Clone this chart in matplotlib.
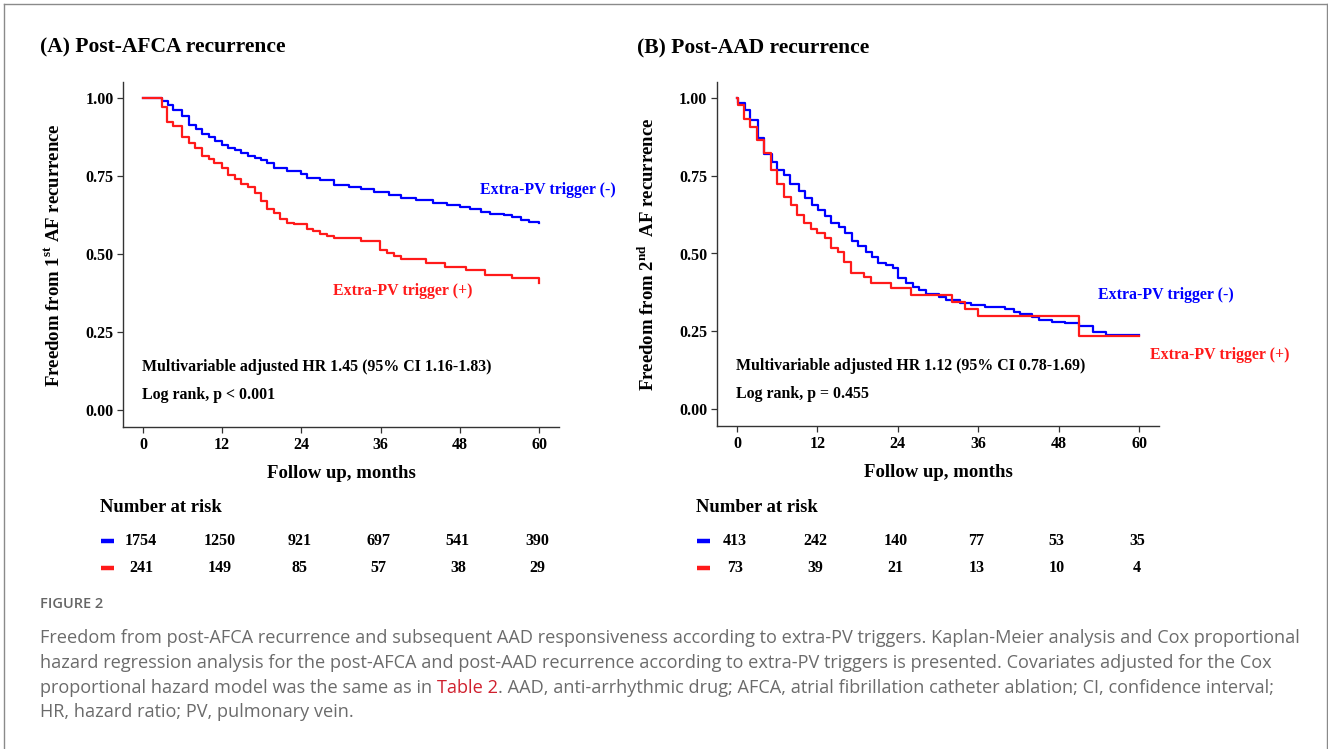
import numpy as np
import matplotlib
matplotlib.use("Agg")
import matplotlib.pyplot as plt
from matplotlib.transforms import blended_transform_factory
from matplotlib.lines import Line2D

plt.rcParams['font.family'] = ['Liberation Serif', 'DejaVu Serif']
plt.rcParams['font.weight'] = 'bold'
plt.rcParams['mathtext.fontset'] = 'custom'
plt.rcParams['mathtext.rm'] = 'Liberation Serif:bold'
plt.rcParams['mathtext.bf'] = 'Liberation Serif:bold'

# ---- panel A: post-AFCA recurrence (months, survival)
a_neg_t = [0, 2.9, 3.8, 4.6, 5.85, 6.9, 8.0, 8.9, 10.0, 10.9, 11.9, 12.9, 13.9, 14.8, 15.9,
           16.9, 17.9, 18.8, 19.8, 21.8, 23.9, 24.8, 26.8, 29.0, 31.2, 33.0, 35.0, 37.2,
           39.1, 41.3, 43.9, 46.1, 48.0, 49.6, 51.2, 52.5, 54.7, 55.9, 57.3, 58.5, 60.0]
a_neg_s = [1.0, 0.989, 0.979, 0.96, 0.941, 0.914, 0.90, 0.885, 0.875, 0.863, 0.85, 0.84, 0.832,
           0.823, 0.815, 0.807, 0.80, 0.791, 0.777, 0.766, 0.756, 0.745, 0.736, 0.722, 0.714,
           0.708, 0.698, 0.69, 0.681, 0.672, 0.665, 0.658, 0.651, 0.643, 0.635, 0.627, 0.624,
           0.617, 0.609, 0.603, 0.598]
a_pos_t = [0, 2.9, 3.7, 4.6, 5.9, 6.9, 7.95, 8.9, 10.0, 10.8, 11.9, 12.9, 13.9, 14.8, 15.9,
           16.9, 17.9, 18.8, 19.8, 20.8, 21.8, 22.9, 24.8, 25.8, 26.8, 27.9, 29.0, 33.0, 35.9,
           36.9, 38.0, 39.1, 42.9, 45.8, 49.0, 51.8, 55.9, 60.0]
a_pos_s = [1.0, 0.97, 0.922, 0.909, 0.875, 0.855, 0.84, 0.815, 0.804, 0.793, 0.777, 0.752,
           0.74, 0.725, 0.714, 0.695, 0.67, 0.645, 0.63, 0.611, 0.60, 0.595, 0.58, 0.574,
           0.565, 0.558, 0.552, 0.543, 0.513, 0.504, 0.494, 0.483, 0.472, 0.459, 0.449,
           0.433, 0.422, 0.406]

# ---- panel B: post-AAD recurrence
b_neg_t = [0, 0.2, 1.2, 2.0, 3.2, 4.1, 5.2, 6.0, 7.0, 7.9, 9.2, 10.2, 11.2, 12.1, 13.2, 14.1,
           15.2, 16.1, 17.2, 18.1, 19.2, 20.1, 21.0, 22.2, 23.3, 24.0, 25.2, 26.2, 27.2, 28.2,
           30.2, 31.2, 33.3, 34.9, 37.0, 40.0, 41.3, 42.3, 44.0, 45.0, 47.0, 49.0, 51.0,
           53.2, 55.0, 60.0]
b_neg_s = [1.0, 0.984, 0.96, 0.928, 0.87, 0.82, 0.794, 0.768, 0.752, 0.723, 0.70, 0.679,
           0.655, 0.639, 0.62, 0.598, 0.586, 0.566, 0.541, 0.524, 0.505, 0.489, 0.47, 0.463,
           0.452, 0.42, 0.404, 0.393, 0.382, 0.369, 0.359, 0.352, 0.342, 0.333, 0.327, 0.32,
           0.313, 0.304, 0.297, 0.286, 0.281, 0.275, 0.267, 0.248, 0.238, 0.238]
b_pos_t = [0, 0.1, 1.0, 1.9, 3.0, 4.0, 5.0, 6.0, 7.0, 8.0, 9.0, 10.0, 11.0, 12.0, 13.1, 14.1,
           15.1, 16.0, 17.0, 19.0, 20.0, 23.0, 26.0, 32.1, 34.0, 36.0, 51.0, 60.0]
b_pos_s = [1.0, 0.976, 0.934, 0.907, 0.864, 0.823, 0.768, 0.725, 0.682, 0.655, 0.623, 0.598,
           0.58, 0.566, 0.551, 0.519, 0.505, 0.473, 0.438, 0.423, 0.404, 0.388, 0.366, 0.345,
           0.323, 0.299, 0.234, 0.234]

risk_months = [0, 12, 24, 36, 48, 60]
a_risk_neg = [1754, 1250, 921, 697, 541, 390]
a_risk_pos = [241, 149, 85, 57, 38, 29]
b_risk_neg = [413, 242, 140, 77, 53, 35]
b_risk_pos = [73, 39, 21, 13, 10, 4]

BLUE = '#0000ff'
RED = '#ff1a1a'
W, H = 1328, 749

fig = plt.figure(figsize=(W / 100, H / 100), dpi=100)

# light frame round the figure
for xs, ys in [((4, 4), (4, 760)), ((4, 1327), (4, 4)), ((1327, 1327), (4, 760))]:
    fig.add_artist(Line2D([x / W for x in xs], [1 - y / H for y in ys],
                          color='#8a8a8a', lw=1.0, transform=fig.transFigure))


def px_axes(x0, x60, y1, y0):
    xs = (x60 - x0) / 60.0
    ys = (y0 - y1) / 1.0
    left = x0 - 3 * xs
    right = x0 + 63 * xs
    top = y1 - 0.05 * ys
    bottom = y0 + 0.055 * ys
    return fig.add_axes([left / W, 1 - bottom / H, (right - left) / W, (bottom - top) / H])


def km_panel(ax, t1, s1, t2, s2, ylab, notes, lab_neg, lab_pos):
    ax.step(t1, s1, where='post', color=BLUE, lw=1.6)
    ax.step(t2, s2, where='post', color=RED, lw=1.6)
    ax.set_xlim(-3, 63)
    ax.set_ylim(-0.055, 1.05)
    ax.set_xticks(risk_months)
    ax.set_yticks([0, 0.25, 0.5, 0.75, 1.0])
    ax.set_yticklabels(['0.00', '0.25', '0.50', '0.75', '1.00'])
    for s in ['top', 'right']:
        ax.spines[s].set_visible(False)
    for s in ['left', 'bottom']:
        ax.spines[s].set_color('#333333')
        ax.spines[s].set_linewidth(1.0)
    ax.tick_params(length=4, width=0.9, color='#333333', labelsize=11.5, pad=3)
    for lab in ax.get_xticklabels() + ax.get_yticklabels():
        lab.set_fontweight('bold')
    ax.set_xlabel('Follow up, months', fontsize=13.5, fontweight='bold', labelpad=9)
    ax.set_ylabel(ylab, fontsize=13.5, fontweight='bold', labelpad=15)
    ax.text(notes[0], 0.138, notes[1], fontsize=11.4, fontweight='bold', va='center')
    ax.text(notes[0], 0.048, notes[2], fontsize=11.4, fontweight='bold', va='center')
    ax.text(lab_neg[0], lab_neg[1], 'Extra-PV trigger (-)', color=BLUE, fontsize=11.4,
            fontweight='bold', va='center', clip_on=False)
    ax.text(lab_pos[0], lab_pos[1], 'Extra-PV trigger (+)', color=RED, fontsize=11.4,
            fontweight='bold', va='center', clip_on=False)


def risk_table(ax, x_head, neg, pos):
    tr = blended_transform_factory(ax.transData, fig.transFigure)
    ax.text(x_head, 1 - 507 / H, 'Number at risk', transform=tr, fontsize=13.4,
            fontweight='bold', va='center', ha='left', clip_on=False)
    for row, vals, col in [(541, neg, BLUE), (568, pos, RED)]:
        yf = 1 - row / H
        ax.plot([x_head + 0.2, x_head + 2.1], [yf, yf], color=col, lw=3.2,
                transform=tr, clip_on=False, solid_capstyle='butt')
        for m, v in zip(risk_months, vals):
            ax.text(m - 0.3, yf, str(v), transform=tr, fontsize=11.5, fontweight='bold',
                    ha='center', va='center', clip_on=False)


axA = px_axes(143, 539, 98, 410)
km_panel(axA, a_neg_t, a_neg_s, a_pos_t, a_pos_s,
         r'Freedom from 1$^{\mathrm{st}}$ AF recurrence',
         (-0.2, 'Multivariable adjusted HR 1.45 (95% CI 1.16-1.83)', 'Log rank, p < 0.001'),
         (51.0, 0.705), (28.8, 0.381))
risk_table(axA, -6.5, a_risk_neg, a_risk_pos)

axB = px_axes(737, 1139, 98, 409)
km_panel(axB, b_neg_t, b_neg_s, b_pos_t, b_pos_s,
         r'Freedom from 2$^{\mathrm{nd}}$  AF recurrence',
         (-0.1, 'Multivariable adjusted HR 1.12 (95% CI 0.78-1.69)', 'Log rank, p = 0.455'),
         (53.9, 0.367), (61.6, 0.174))
risk_table(axB, -6.1, b_risk_neg, b_risk_pos)

fig.text(40 / W, 1 - 47 / H, '(A) Post-AFCA recurrence', fontsize=15.5, fontweight='bold',
         va='center', ha='left')
fig.text(637 / W, 1 - 48 / H, '(B) Post-AAD recurrence', fontsize=15.5, fontweight='bold',
         va='center', ha='left')

# ---- caption
cap_font = ['Open Sans', 'DejaVu Sans']
cap_size = 13.05
fig.text(40 / W, 1 - 604 / H, 'FIGURE 2', family=cap_font, fontsize=10.5, fontweight='semibold',
         color='#666666', va='center')
cap_lines = [
    'Freedom from post-AFCA recurrence and subsequent AAD responsiveness according to extra-PV triggers. Kaplan-Meier analysis and Cox proportional',
    'hazard regression analysis for the post-AFCA and post-AAD recurrence according to extra-PV triggers is presented. Covariates adjusted for the Cox',
    None,
    'HR, hazard ratio; PV, pulmonary vein.',
]
cap_y = [638, 663, 688, 712]
for line, yy in zip(cap_lines, cap_y):
    if line is not None:
        fig.text(40 / W, 1 - yy / H, line, family=cap_font, fontsize=cap_size, fontweight='normal',
                 color='#6b6b6b', va='center')

# third line has the red "Table 2" link
parts = [('proportional hazard model was the same as in ', '#6b6b6b'), ('Table 2', '#d0202e'),
         ('. AAD, anti-arrhythmic drug; AFCA, atrial fibrillation catheter ablation; CI, confidence interval;', '#6b6b6b')]
fig.canvas.draw()
renderer = fig.canvas.get_renderer()
xpos = 40
for txt, col in parts:
    t = fig.text(xpos / W, 1 - 688 / H, txt, family=cap_font, fontsize=cap_size, fontweight='normal',
                 color=col, va='center')
    bb = t.get_window_extent(renderer)
    xpos += bb.width

fig.savefig('out.png', dpi=100)
